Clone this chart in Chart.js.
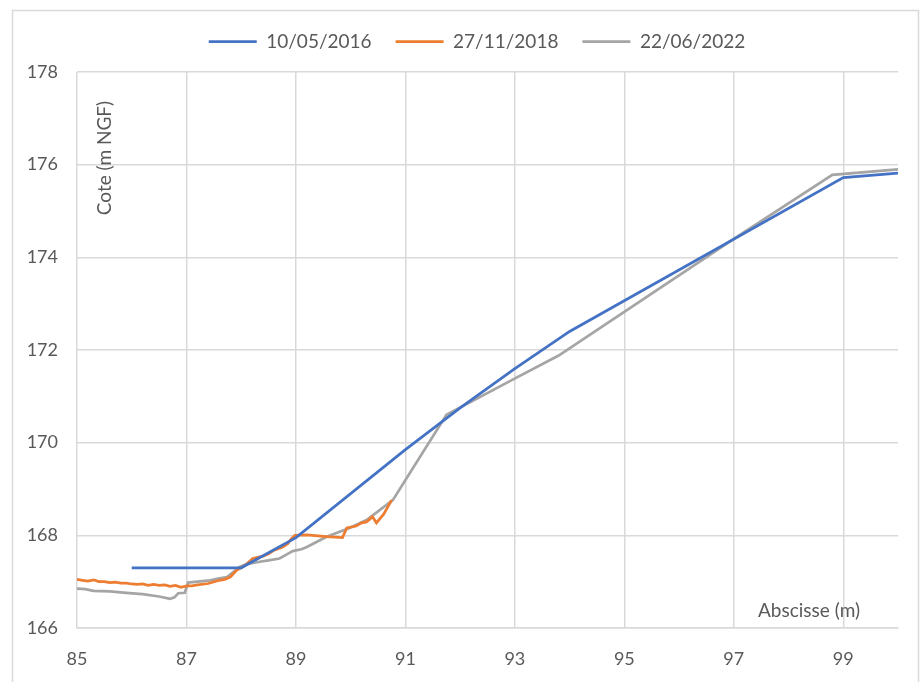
<!doctype html>
<html>

<head>
	<title>Profil en travers</title>
	<script src="https://cdn.jsdelivr.net/npm/chart.js@4"></script>
	<style>
		html, body {
			margin: 0;
			padding: 0;
			background: #fff;
		}
		#chart-holder {
			width: 920px;
			height: 682px;
		}
	</style>
</head>

<body>
	<div id="chart-holder">
		<canvas id="profil"></canvas>
	</div>
	<script>
		// Levé du 10/05/2016
		const abs2016 = [86, 88, 89, 91, 92, 93, 94, 99, 100];
		const cote2016 = [167.3, 167.3, 167.95, 169.85, 170.75, 171.6, 172.4, 175.72, 175.82];

		// Levé du 27/11/2018
		const abs2018 = [85, 85.1, 85.2, 85.3, 85.4, 85.5, 85.6, 85.7, 85.8, 85.9, 86, 86.1, 86.2, 86.3, 86.4,
			86.5, 86.6, 86.7, 86.8, 86.9, 87, 87.1, 87.2, 87.4, 87.6, 87.7, 87.8, 87.92, 88, 88.1, 88.21, 88.4,
			88.5, 88.6, 88.76, 88.85, 88.92, 88.98, 89.2, 89.56, 89.85, 89.93, 90.1, 90.2, 90.29, 90.35, 90.4,
			90.47, 90.6, 90.75];
		const cote2018 = [167.05, 167.03, 167.01, 167.04, 167.0, 167.0, 166.98, 166.99, 166.97, 166.97, 166.95,
			166.94, 166.95, 166.92, 166.94, 166.92, 166.93, 166.9, 166.92, 166.88, 166.91, 166.91, 166.93,
			166.96, 167.03, 167.05, 167.1, 167.25, 167.3, 167.38, 167.5, 167.55, 167.6, 167.68, 167.75, 167.82,
			167.93, 168.0, 168.01, 167.97, 167.95, 168.16, 168.2, 168.27, 168.29, 168.35, 168.4, 168.27, 168.45,
			168.76];

		// Levé du 22/06/2022
		const abs2022 = [85, 85.15, 85.3, 85.6, 85.9, 86.2, 86.5, 86.7, 86.78, 86.85, 86.97, 87.03, 87.2, 87.43,
			87.6, 87.74, 87.85, 87.97, 88.1, 88.34, 88.5, 88.7, 88.85, 88.94, 89.1, 89.2, 89.56, 89.98, 90.29,
			90.77, 91.75, 92.96, 93.8, 97, 98.8, 100];
		const cote2022 = [166.85, 166.84, 166.8, 166.79, 166.76, 166.73, 166.68, 166.63, 166.66, 166.75, 166.76,
			166.98, 167.0, 167.03, 167.07, 167.1, 167.2, 167.32, 167.38, 167.43, 167.46, 167.5, 167.6, 167.66,
			167.7, 167.75, 167.97, 168.16, 168.33, 168.76, 170.6, 171.36, 171.88, 174.4, 175.78, 175.9];

		const xTicks = [85, 87, 89, 91, 93, 95, 97, 99];
		const yTicks = [166, 168, 170, 172, 174, 176, 178];

		const toPoints = (xs, ys) => xs.map((x, i) => ({ x: x, y: ys[i] }));

		const textColor = '#595959';
		const gridColor = '#d9d9d9';
		const fontFamily = 'Lato, "Open Sans", sans-serif';

		// cadre du graphique, légende recentrée sur le cadre et titres d'axes dans la zone de tracé
		const decorations = {
			id: 'decorations',
			beforeLayout(chart) {
				const legend = chart.legend;
				if (legend && !legend._extraSpace) {
					const fit = legend.fit;
					legend.fit = function() {
						fit.call(this);
						this.height += 11;
					};
					legend._extraSpace = true;
				}
			},
			afterLayout(chart) {
				chart.legend.left += 28;
				chart.legend.right += 28;
			},
			beforeDraw(chart) {
				const ctx = chart.ctx;
				ctx.save();
				ctx.strokeStyle = gridColor;
				ctx.lineWidth = 1.5;
				ctx.strokeRect(12.5, 10.5, 906, 690);
				ctx.restore();
			},
			afterDraw(chart) {
				const ctx = chart.ctx;
				const area = chart.chartArea;
				ctx.save();
				ctx.fillStyle = textColor;
				ctx.font = '19px ' + fontFamily;
				ctx.textBaseline = 'middle';

				ctx.textAlign = 'right';
				ctx.fillText('Abscisse (m)', area.right - 38, area.bottom - 17);

				ctx.translate(area.left + 28, area.top + 86);
				ctx.rotate(-Math.PI / 2);
				ctx.textAlign = 'center';
				ctx.fillText('Cote (m NGF)', 0, 0);
				ctx.restore();
			}
		};

		const config = {
			type: 'scatter',
			data: {
				datasets: [{
					label: '10/05/2016',
					data: toPoints(abs2016, cote2016),
					borderColor: '#4472c4',
					backgroundColor: '#4472c4'
				}, {
					label: '27/11/2018',
					data: toPoints(abs2018, cote2018),
					borderColor: '#ed7d31',
					backgroundColor: '#ed7d31'
				}, {
					label: '22/06/2022',
					data: toPoints(abs2022, cote2022),
					borderColor: '#a5a5a5',
					backgroundColor: '#a5a5a5'
				}]
			},
			options: {
				responsive: false,
				animation: false,
				showLine: true,
				datasets: {
					scatter: {
						borderWidth: 2.75,
						pointRadius: 0,
						pointHoverRadius: 0,
						tension: 0
					}
				},
				layout: {
					padding: { top: 8, right: 22, bottom: 0, left: 0 }
				},
				plugins: {
					legend: {
						position: 'top',
						labels: {
							usePointStyle: true,
							pointStyle: 'line',
							pointStyleWidth: 48,
							padding: 24,
							color: textColor,
							font: { family: fontFamily, size: 19 }
						}
					},
					tooltip: { enabled: false }
				},
				scales: {
					x: {
						type: 'linear',
						min: 85,
						max: 100,
						afterBuildTicks: (scale) => {
							scale.ticks = xTicks.map(v => ({ value: v }));
						},
						afterFit: (scale) => {
							scale.height = 54;
						},
						border: { color: gridColor, width: 1.5 },
						grid: { color: gridColor, lineWidth: 1.5, drawTicks: false },
						ticks: {
							padding: 20,
							maxRotation: 0,
							autoSkip: false,
							color: textColor,
							font: { family: fontFamily, size: 18 }
						}
					},
					y: {
						min: 166,
						max: 178,
						afterBuildTicks: (scale) => {
							scale.ticks = yTicks.map(v => ({ value: v }));
						},
						afterFit: (scale) => {
							scale.width = 77;
						},
						border: { display: false },
						grid: { color: gridColor, lineWidth: 1.5, drawTicks: false },
						ticks: {
							padding: 19,
							color: textColor,
							font: { family: fontFamily, size: 18 }
						}
					}
				}
			},
			plugins: [decorations]
		};

		window.onload = function() {
			const ctx = document.getElementById('profil');
			ctx.width = 920;
			ctx.height = 682;
			window.profilChart = new Chart(ctx, config);
		};
	</script>
</body>

</html>
